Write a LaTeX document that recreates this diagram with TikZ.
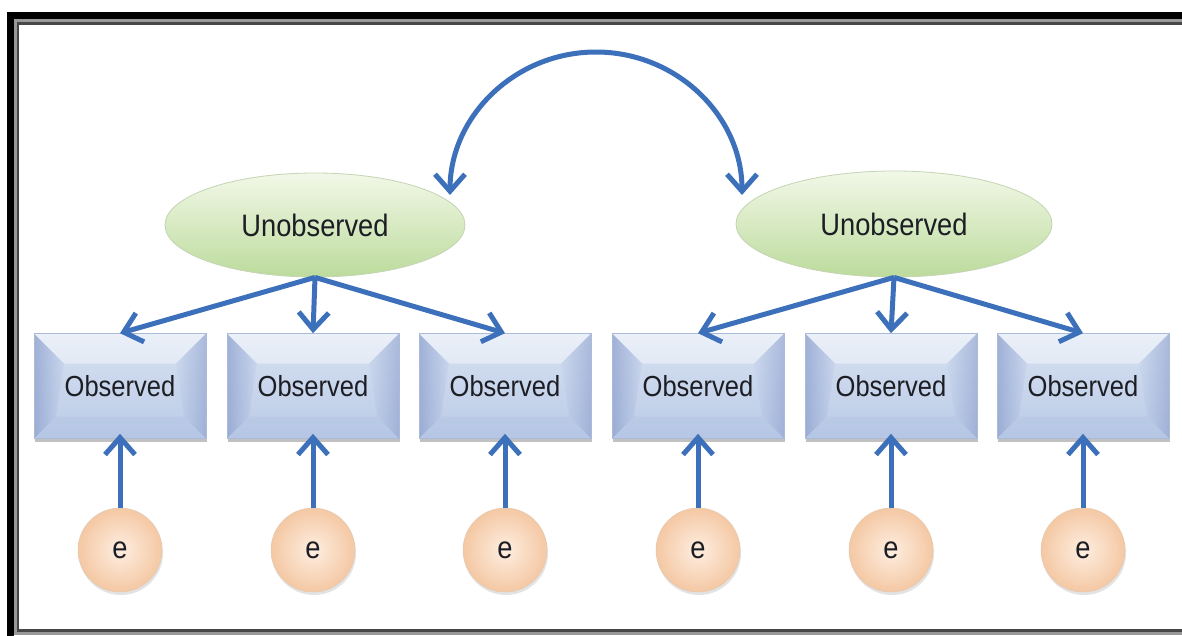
\documentclass[tikz,border=0pt]{standalone}
\usepackage{fontspec}
\setmainfont{Liberation Sans}[FakeStretch=0.88]
\usetikzlibrary{arrows.meta,shadows,shapes.geometric,calc}

\definecolor{linkblue}{RGB}{60,112,186}
\definecolor{boxtop}{RGB}{224,232,245}
\definecolor{boxmid}{RGB}{198,212,236}
\definecolor{boxbot}{RGB}{182,199,229}
\definecolor{boxside}{RGB}{150,168,210}
\definecolor{boxedge}{RGB}{170,186,216}
\definecolor{latTop}{RGB}{242,248,232}
\definecolor{latBot}{RGB}{188,219,156}
\definecolor{latEdge}{RGB}{196,212,180}
\definecolor{errIn}{RGB}{254,238,224}
\definecolor{errOut}{RGB}{244,200,164}
\definecolor{errEdge}{RGB}{230,200,175}
\definecolor{ink}{RGB}{28,30,36}

\tikzset{
  barb/.tip={Straight Barb[length=17pt,width=30pt,line width=5pt]},
  latent/.style={ellipse, minimum width=300pt, minimum height=104pt, inner sep=0pt,
    top color=latTop, bottom color=latBot, draw=latEdge, line width=0.8pt,
    text=ink, font=\fontsize{31}{33}\selectfont},
  obsbox/.style={rectangle, minimum width=172pt, minimum height=105pt, inner sep=0pt,
    top color=boxtop, bottom color=boxbot, draw=boxedge, line width=0.6pt,
    text=ink, font=\fontsize{29}{31}\selectfont,
    drop shadow={shadow xshift=1pt, shadow yshift=-3pt, opacity=0.4, fill=black!60},
    path picture={
      \coordinate (pnw) at (path picture bounding box.north west);
      \coordinate (pne) at (path picture bounding box.north east);
      \coordinate (psw) at (path picture bounding box.south west);
      \coordinate (pse) at (path picture bounding box.south east);
      % top bevel, lit
      \fill[white, opacity=0.35] (pnw) -- (pne) -- ($(pne)+(-30pt,-30pt)$) -- ($(pnw)+(30pt,-30pt)$) -- cycle;
      % left bevel, shaded
      \shade[left color=boxside, right color=boxmid, opacity=0.85]
        (pnw) -- ($(pnw)+(30pt,-30pt)$) -- ($(psw)+(22pt,22pt)$) -- (psw) -- cycle;
      % right bevel, shaded
      \shade[left color=boxmid, right color=boxside, opacity=0.7]
        (pne) -- ($(pne)+(-30pt,-30pt)$) -- ($(pse)+(-22pt,22pt)$) -- (pse) -- cycle;
      % bottom bevel
      \fill[boxbot, opacity=0.6] (psw) -- (pse) -- ($(pse)+(-22pt,22pt)$) -- ($(psw)+(22pt,22pt)$) -- cycle;
      \fill[boxmid, opacity=0.35] ($(pnw)+(30pt,-30pt)$) -- ($(pne)+(-30pt,-30pt)$) -- ($(pse)+(-22pt,22pt)$) -- ($(psw)+(22pt,22pt)$) -- cycle;
    }},
  errnode/.style={circle, minimum size=84pt, inner sep=0pt,
    inner color=errIn, outer color=errOut, draw=errEdge, line width=0.5pt,
    text=ink, font=\fontsize{31}{33}\selectfont,
    drop shadow={shadow xshift=1pt, shadow yshift=-3pt, opacity=0.22, fill=black!50}},
  link/.style={draw=linkblue, line width=5pt, -barb},
}

\begin{document}
\begin{tikzpicture}[x=1pt,y=-1pt]
  \useasboundingbox (0,0) rectangle (1182,635);
  \fill[white] (0,0) rectangle (1182,635);

  % frame: heavy black rule with a grey double line inside
  \draw[black, line width=7pt] (10.5,15.5) rectangle (1192,646);
  \draw[black!40, line width=3pt] (15.5,20.5) rectangle (1190,633.5);
  \draw[black!72, line width=2.4pt] (18,23.5) rectangle (1188,630.5);

  % latent variables
  \node[latent] (uL) at (315,225) {\raisebox{-3pt}{Unobserved}};
  \node[latent, minimum width=316pt, minimum height=106pt] (uR) at (894,224) {\raisebox{-3pt}{Unobserved}};

  % observed indicators
  \foreach \i/\x in {1/120,2/313,3/505,4/698,5/891,6/1083}{
    \node[obsbox] (o\i) at (\x,386) {Observed};
    \node[errnode] (e\i) at (\x,550) {e};
  }

  % loadings
  \foreach \i in {1,2,3}{ \draw[link] (uL.south) -- (o\i.north); }
  \foreach \i in {4,5,6}{ \draw[link] (uR.south) -- (o\i.north); }

  % error terms
  \foreach \i in {1,...,6}{ \draw[link, shorten >=-5pt] (e\i.north) -- (o\i.south); }

  % covariance between the latent variables
  \coordinate (cL) at (450,195);
  \draw[link, barb-barb]
    (cL) arc[start angle=180, end angle=360, x radius=146, y radius=143];
\end{tikzpicture}
\end{document}
